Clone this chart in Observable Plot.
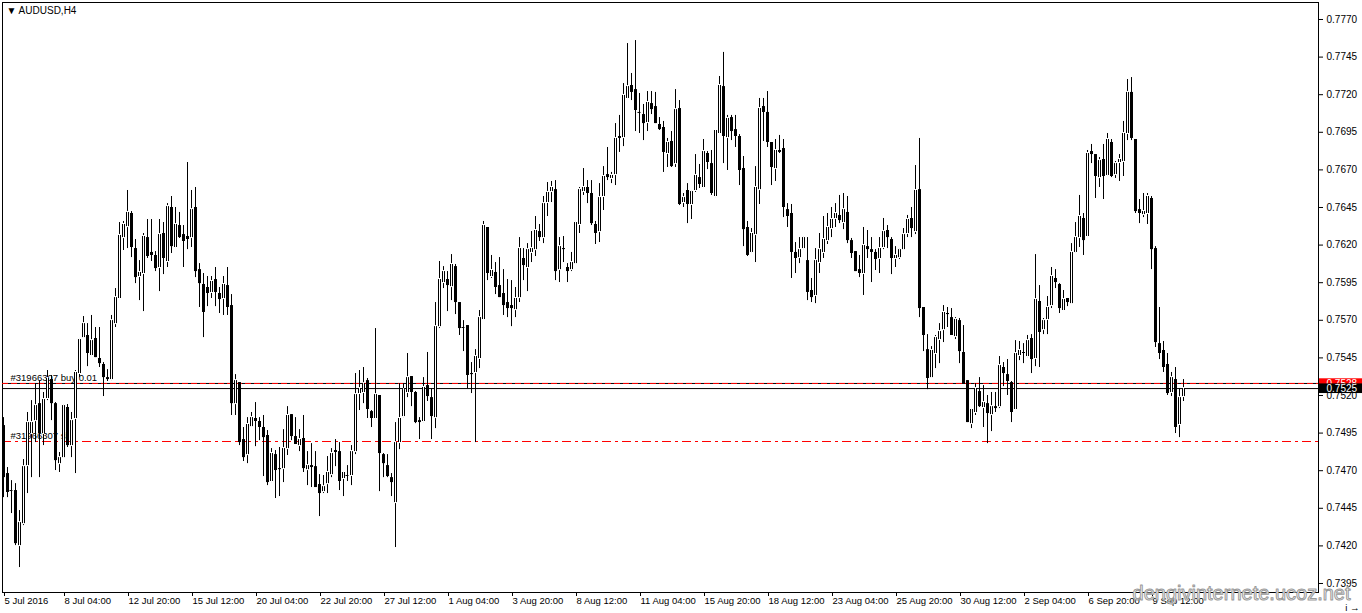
<!DOCTYPE html>
<html><head><meta charset="utf-8">
<script src="https://cdn.jsdelivr.net/npm/d3@7"></script>
<script src="https://cdn.jsdelivr.net/npm/@observablehq/plot@0.6"></script>
<style>
html,body{margin:0;padding:0;background:#fff;overflow:hidden}
#chart svg{display:block}
</style></head><body><div id="chart"></div>
<script>
const symbolTitle = "AUDUSD,H4";

const open = [
0.75000,0.74681,0.74568,0.74568,0.74202,0.74348,0.74734,0.74947,0.75033,0.75146,
0.74947,0.75180,0.75306,0.75146,0.74747,0.74787,0.75120,0.74867,0.75047,0.75346,
0.75585,0.75599,0.75466,0.75579,0.75446,0.75406,0.75306,0.75306,0.75678,0.75845,
0.76250,0.76323,0.76410,0.76177,0.75991,0.76011,0.76250,0.76151,0.76131,0.76051,
0.76277,0.76091,0.76450,0.76184,0.76330,0.76270,0.76257,0.76250,0.76450,0.76037,
0.75938,0.75918,0.75885,0.75971,0.75878,0.75845,0.75931,0.75798,0.75146,0.75286,
0.74907,0.74807,0.74993,0.75047,0.75027,0.74987,0.74934,0.74628,0.74807,0.74714,
0.74714,0.74847,0.75073,0.74927,0.74867,0.74914,0.74707,0.74734,0.74727,0.74608,
0.74561,0.74614,0.74674,0.74834,0.74827,0.74648,0.74674,0.74668,0.74827,0.75213,
0.75220,0.75299,0.75093,0.75047,0.75200,0.74807,0.74734,0.74654,0.74488,0.74887,
0.75060,0.75220,0.75326,0.75220,0.75033,0.75027,0.75266,0.75186,0.75053,0.75658,
0.75951,0.75971,0.75924,0.76057,0.75818,0.75658,0.75665,0.75346,0.75353,0.75446,
0.75705,0.76317,0.75991,0.76018,0.75931,0.75878,0.75818,0.75798,0.75771,0.75851,
0.76111,0.76051,0.76151,0.76170,0.76290,0.76250,0.76483,0.76556,0.76569,0.76037,
0.76170,0.76051,0.76037,0.76077,0.76337,0.76556,0.76583,0.76543,0.76337,0.76290,
0.76523,0.76669,0.76643,0.76669,0.76922,0.76915,0.77175,0.77261,0.77234,0.77088,
0.77068,0.77015,0.77141,0.77121,0.77002,0.76982,0.76809,0.76889,0.76742,0.77108,
0.76483,0.76563,0.76470,0.76563,0.76649,0.76583,0.76809,0.76742,0.76523,0.76942,
0.77254,0.76915,0.77048,0.76968,0.76922,0.76709,0.76317,0.76151,0.76270,0.76569,
0.77121,0.77082,0.76882,0.76709,0.76816,0.76842,0.76436,0.76410,0.76151,0.76117,
0.76177,0.76097,0.75898,0.75865,0.76084,0.76151,0.76230,0.76310,0.76377,0.76397,
0.76350,0.76417,0.76230,0.76157,0.76037,0.76011,0.76190,0.76170,0.76151,0.76111,
0.76184,0.76297,0.76237,0.76111,0.76117,0.76170,0.76277,0.76377,0.76290,0.76569,
0.75785,0.75505,0.75319,0.75479,0.75572,0.75638,0.75738,0.75718,0.75592,0.75698,
0.75486,0.75299,0.75013,0.75087,0.75226,0.75120,0.75146,0.75073,0.75113,0.75126,
0.75386,0.75339,0.75286,0.75107,0.75466,0.75479,0.75459,0.75579,0.75446,0.75825,
0.75638,0.75705,0.75798,0.75978,0.75938,0.75765,0.75845,0.75811,0.76151,0.76250,
0.76377,0.76257,0.76822,0.76802,0.76649,0.76769,0.76663,0.76882,0.76669,0.76749,
0.76756,0.76942,0.77215,0.76902,0.76436,0.76403,0.76410,0.76510,0.76177,0.75545,
0.75499,0.75406,0.75220,0.75306,0.75007,0.75193
];
const high = [
0.75053,0.74721,0.74634,0.74614,0.74435,0.74774,0.75087,0.75166,0.75279,0.75299,
0.75220,0.75366,0.75333,0.75153,0.74821,0.75140,0.75140,0.75087,0.75366,0.75579,
0.75725,0.75678,0.75732,0.75652,0.75652,0.75419,0.75372,0.75732,0.75911,0.76350,
0.76357,0.76563,0.76423,0.76237,0.76097,0.76277,0.76370,0.76370,0.76157,0.76370,
0.76350,0.76476,0.76523,0.76450,0.76417,0.76330,0.76749,0.76563,0.76583,0.76077,
0.76011,0.75991,0.75991,0.76051,0.75918,0.75991,0.76051,0.75871,0.75339,0.75286,
0.74987,0.75053,0.75087,0.75153,0.75053,0.75067,0.74967,0.74847,0.74834,0.74854,
0.74973,0.75126,0.75073,0.75053,0.74973,0.75067,0.74827,0.74880,0.74827,0.74674,
0.74668,0.74794,0.74847,0.74907,0.74887,0.74694,0.74734,0.74867,0.75346,0.75366,
0.75386,0.75313,0.75100,0.75645,0.75200,0.74814,0.74807,0.74681,0.75020,0.75279,
0.75279,0.75479,0.75326,0.75226,0.75053,0.75319,0.75486,0.75246,0.75818,0.76091,
0.76057,0.76024,0.76137,0.76071,0.75818,0.75698,0.75665,0.75419,0.75505,0.75765,
0.76357,0.76317,0.76131,0.76084,0.76117,0.76037,0.75971,0.75964,0.75918,0.76250,
0.76177,0.76210,0.76290,0.76390,0.76337,0.76523,0.76616,0.76623,0.76629,0.76250,
0.76257,0.76077,0.76151,0.76357,0.76583,0.76709,0.76629,0.76629,0.76357,0.76609,
0.76722,0.76849,0.76683,0.77008,0.77062,0.77274,0.77540,0.77341,0.77560,0.77208,
0.77135,0.77221,0.77221,0.77215,0.77048,0.77022,0.76909,0.76955,0.77234,0.77161,
0.76543,0.76609,0.76563,0.76802,0.76736,0.76902,0.76822,0.76829,0.76968,0.77321,
0.77481,0.77062,0.77062,0.77062,0.76935,0.76789,0.76357,0.76310,0.76722,0.77175,
0.77175,0.77221,0.76882,0.76902,0.76929,0.76902,0.76476,0.76470,0.76217,0.76250,
0.76257,0.76250,0.75978,0.76177,0.76277,0.76390,0.76410,0.76450,0.76476,0.76530,
0.76543,0.76523,0.76244,0.76157,0.76131,0.76317,0.76297,0.76250,0.76170,0.76250,
0.76377,0.76330,0.76250,0.76190,0.76177,0.76310,0.76397,0.76450,0.76729,0.76909,
0.75785,0.75605,0.75525,0.75599,0.75678,0.75798,0.75785,0.75778,0.75718,0.75712,
0.75665,0.75299,0.75113,0.75279,0.75319,0.75266,0.75200,0.75220,0.75220,0.75459,
0.75419,0.75439,0.75293,0.75565,0.75559,0.75545,0.75599,0.75605,0.76137,0.75931,
0.75712,0.75858,0.76051,0.76037,0.75944,0.75898,0.75845,0.76210,0.76350,0.76530,
0.76410,0.76829,0.76869,0.76802,0.76782,0.76869,0.76942,0.76902,0.76756,0.76802,
0.77022,0.77301,0.77314,0.76902,0.76503,0.76543,0.76543,0.76523,0.76190,0.75785,
0.75559,0.75479,0.75353,0.75386,0.75246,0.75306
];
const low = [
0.74521,0.74521,0.74415,0.74202,0.74056,0.74335,0.74548,0.74654,0.74887,0.74654,
0.74867,0.75166,0.75033,0.74701,0.74688,0.74781,0.74854,0.74787,0.74681,0.75319,
0.75585,0.75392,0.75466,0.75452,0.75386,0.75193,0.75293,0.75299,0.75652,0.75845,
0.76164,0.76177,0.76117,0.75944,0.75831,0.75758,0.76111,0.76091,0.76024,0.75891,
0.76004,0.76051,0.76144,0.76184,0.76244,0.76051,0.76170,0.76184,0.75984,0.75785,
0.75585,0.75791,0.75845,0.75791,0.75745,0.75732,0.75732,0.75067,0.75067,0.74867,
0.74761,0.74747,0.74987,0.74860,0.74900,0.74661,0.74601,0.74621,0.74515,0.74528,
0.74621,0.74801,0.74900,0.74874,0.74827,0.74688,0.74601,0.74588,0.74588,0.74395,
0.74548,0.74548,0.74654,0.74727,0.74568,0.74528,0.74628,0.74601,0.74807,0.75100,
0.75146,0.75047,0.74987,0.75040,0.74561,0.74654,0.74654,0.74528,0.74189,0.74840,
0.75053,0.75186,0.75126,0.75013,0.74907,0.75020,0.75160,0.74907,0.74980,0.75645,
0.75911,0.75758,0.75831,0.75738,0.75599,0.75492,0.75246,0.75213,0.74887,0.75379,
0.75705,0.75964,0.75978,0.75871,0.75851,0.75732,0.75718,0.75658,0.75718,0.75818,
0.75964,0.75891,0.76084,0.76124,0.76224,0.76210,0.76390,0.76483,0.75964,0.75951,
0.76084,0.75951,0.76024,0.76077,0.76277,0.76530,0.76476,0.76330,0.76204,0.76217,
0.76430,0.76629,0.76609,0.76596,0.76816,0.76855,0.77175,0.77161,0.76955,0.76942,
0.76895,0.76955,0.77068,0.77008,0.76962,0.76683,0.76716,0.76716,0.76716,0.76463,
0.76450,0.76343,0.76370,0.76550,0.76576,0.76576,0.76702,0.76530,0.76516,0.76942,
0.76742,0.76696,0.76895,0.76849,0.76596,0.76190,0.76124,0.76144,0.76084,0.76470,
0.76889,0.76849,0.76596,0.76623,0.76809,0.76383,0.76317,0.75978,0.76011,0.76077,
0.76170,0.75831,0.75818,0.75811,0.76011,0.76111,0.76204,0.76250,0.76317,0.76343,
0.76303,0.76210,0.76111,0.76024,0.75984,0.75865,0.76111,0.75951,0.76031,0.76011,
0.76170,0.76177,0.76004,0.76051,0.76104,0.76164,0.76250,0.76250,0.76270,0.75718,
0.75492,0.75239,0.75319,0.75379,0.75412,0.75552,0.75652,0.75599,0.75572,0.75412,
0.75279,0.75020,0.74980,0.75067,0.75120,0.74987,0.74880,0.74960,0.75087,0.75113,
0.75259,0.75200,0.75020,0.75107,0.75432,0.75412,0.75452,0.75346,0.75392,0.75386,
0.75605,0.75605,0.75778,0.75911,0.75745,0.75765,0.75791,0.75805,0.76144,0.76184,
0.76131,0.76257,0.76742,0.76510,0.76583,0.76503,0.76656,0.76649,0.76643,0.76623,
0.76656,0.76895,0.76895,0.76410,0.76343,0.76383,0.76337,0.76037,0.75519,0.75439,
0.75353,0.75200,0.75193,0.74947,0.74920,0.75160
];
const close = [
0.74654,0.74555,0.74568,0.74215,0.74355,0.74727,0.75020,0.75020,0.75133,0.74947,
0.75173,0.75313,0.75146,0.74767,0.74787,0.75133,0.74867,0.75033,0.75353,0.75572,
0.75678,0.75479,0.75565,0.75452,0.75412,0.75319,0.75319,0.75698,0.75851,0.76264,
0.76337,0.76417,0.76184,0.75984,0.76018,0.76257,0.76124,0.76131,0.76044,0.76270,
0.76111,0.76456,0.76190,0.76337,0.76250,0.76224,0.76237,0.76436,0.76024,0.75944,
0.75752,0.75878,0.75958,0.75885,0.75838,0.75938,0.75785,0.75146,0.75299,0.74887,
0.74787,0.75007,0.75053,0.75027,0.74987,0.74920,0.74621,0.74814,0.74701,0.74707,
0.74847,0.75067,0.74927,0.74874,0.74907,0.74714,0.74734,0.74721,0.74588,0.74548,
0.74594,0.74688,0.74814,0.74821,0.74628,0.74688,0.74668,0.74827,0.75206,0.75246,
0.75279,0.75107,0.75047,0.75206,0.74814,0.74747,0.74661,0.74621,0.74887,0.75047,
0.75239,0.75319,0.75220,0.75020,0.75020,0.75253,0.75193,0.75060,0.75658,0.75971,
0.76024,0.75931,0.76071,0.75818,0.75645,0.75652,0.75333,0.75339,0.75459,0.75718,
0.76330,0.76011,0.76031,0.75918,0.75851,0.75798,0.75778,0.75778,0.75845,0.76177,
0.76064,0.76170,0.76177,0.76297,0.76250,0.76476,0.76550,0.76583,0.76024,0.76190,
0.76177,0.76024,0.76084,0.76350,0.76569,0.76583,0.76543,0.76343,0.76277,0.76516,
0.76656,0.76649,0.76663,0.76909,0.76909,0.77195,0.77254,0.77215,0.77095,0.77082,
0.77008,0.77148,0.77101,0.77008,0.76968,0.76816,0.76882,0.76722,0.77101,0.76470,
0.76516,0.76470,0.76556,0.76663,0.76603,0.76822,0.76749,0.76543,0.76962,0.77261,
0.76922,0.77042,0.76955,0.76922,0.76696,0.76303,0.76131,0.76277,0.76583,0.77108,
0.77082,0.76882,0.76716,0.76829,0.76829,0.76450,0.76390,0.76151,0.76111,0.76170,
0.76250,0.75885,0.75851,0.76097,0.76170,0.76237,0.76317,0.76370,0.76410,0.76363,
0.76436,0.76230,0.76144,0.76024,0.76011,0.76197,0.76170,0.76151,0.76104,0.76177,
0.76290,0.76250,0.76111,0.76131,0.76170,0.76270,0.76370,0.76310,0.76563,0.75778,
0.75599,0.75313,0.75499,0.75585,0.75625,0.75752,0.75745,0.75599,0.75705,0.75492,
0.75279,0.75020,0.75107,0.75246,0.75126,0.75153,0.75080,0.75126,0.75126,0.75399,
0.75346,0.75293,0.75087,0.75479,0.75499,0.75486,0.75565,0.75439,0.75838,0.75619,
0.75698,0.75785,0.75991,0.75951,0.75778,0.75838,0.75818,0.76151,0.76250,0.76390,
0.76230,0.76809,0.76802,0.76656,0.76762,0.76656,0.76902,0.76656,0.76742,0.76769,
0.76942,0.77215,0.76909,0.76423,0.76410,0.76423,0.76523,0.76170,0.75552,0.75479,
0.75386,0.75213,0.75319,0.74987,0.75186,0.75246
];

const timeTickBars = [0, 15, 31, 47, 63, 79, 95, 111, 127, 143, 159, 175, 191, 207, 223, 239, 255, 271, 287];
const timeTickLabels = ["5 Jul 2016", "8 Jul 04:00", "12 Jul 20:00", "15 Jul 12:00", "20 Jul 04:00", "22 Jul 20:00",
  "27 Jul 12:00", "1 Aug 04:00", "3 Aug 20:00", "8 Aug 12:00", "11 Aug 04:00", "15 Aug 20:00", "18 Aug 12:00",
  "23 Aug 04:00", "25 Aug 20:00", "30 Aug 12:00", "2 Sep 04:00", "6 Sep 20:00", "9 Sep 12:00"];
const priceTicks = [0.7395, 0.7420, 0.7445, 0.7470, 0.7495, 0.7520, 0.7545, 0.7570, 0.7595, 0.7620, 0.7645, 0.7670, 0.7695, 0.7720, 0.7745, 0.7770];

const bidPrice = 0.75246;
const orderPrice = 0.75280;
const stopPrice = 0.74894;
const orderText = "#31966307 buy 0.01";
const stopText = "#31966307 sl";
const watermarkText = "dengivinternete.ucoz.net";

// derived table
const pip = 0.0000665; // one screen pixel in price units (for thin-body handling)
const candles = open.map((o, i) => ({i, o, h: high[i], l: low[i], c: close[i]}));
const bodies = candles.filter(d => Math.abs(d.c - d.o) >= pip);
const thin = candles.filter(d => Math.abs(d.c - d.o) < pip);
const upHollow = candles.filter(d => d.c - d.o > 2.2 * pip);

const fmt4 = d3.format(".4f");
const tagX1 = 329.0, tagX2 = 339.75, tagTextX = 330.75, tagHalf = 0.00031;
const tickIndex = new Map(timeTickBars.map((b, k) => [b, timeTickLabels[k]]));

const chart = Plot.plot({
  width: 1362,
  height: 613,
  marginLeft: 2,
  marginRight: 44,
  marginTop: 2,
  marginBottom: 21,
  style: {fontFamily: "'Liberation Sans', Arial, sans-serif", fontSize: "10px", background: "#ffffff", color: "#000000", overflow: "visible"},
  x: {type: "linear", domain: [-0.25, 328.75], axis: null},
  y: {type: "linear", domain: [0.738901, 0.778130], axis: null},
  marks: [
    Plot.frame({stroke: "#000000"}),
    Plot.ruleY([orderPrice], {stroke: "#000000"}),
    Plot.ruleY([orderPrice], {stroke: "#ff0000", strokeDasharray: "6,3"}),
    Plot.ruleY([bidPrice], {stroke: "#000000"}),
    Plot.ruleY([stopPrice], {stroke: "#ff0000", strokeDasharray: "9,4,3,4"}),
    Plot.text([orderPrice], {y: d => d, frameAnchor: "left", dx: 8, dy: -6, text: () => orderText, textAnchor: "start", fontSize: 9.5, fill: "#000000"}),
    Plot.text([stopPrice], {y: d => d, frameAnchor: "left", dx: 8, dy: -6, text: () => stopText, textAnchor: "start", fontSize: 9.5, fill: "#000000"}),
    // wicks
    Plot.ruleX(candles, {x: "i", y1: "l", y2: "h", stroke: "#000000", strokeWidth: 1}),
    // bodies (3px wide, black outline)
    Plot.ruleX(bodies, {x: "i", y1: "o", y2: "c", stroke: "#000000", strokeWidth: 3}),
    // hollow interior of bullish bodies
    Plot.ruleX(upHollow, {x: "i", y1: "o", y2: "c", stroke: "#ffffff", strokeWidth: 1, insetTop: 1, insetBottom: 1}),
    // very small bodies drawn as 3px dashes
    Plot.ruleY(thin, {y: "c", x1: d => d.i - 0.375, x2: d => d.i + 0.375, stroke: "#000000"}),
    Plot.axisY({anchor: "right", ticks: priceTicks, tickFormat: fmt4, tickSize: 4, tickPadding: 4, fontSize: 10}),
    Plot.axisX({anchor: "bottom", ticks: timeTickBars, tickFormat: b => tickIndex.get(b), tickSize: 4, tickPadding: 1, textAnchor: "start", dx: 1, fontSize: 9.5}),
    Plot.rect([orderPrice], {x1: tagX1, x2: tagX2, y1: d => d - tagHalf, y2: d => d + tagHalf, fill: "#ff0000"}),
    Plot.text([orderPrice], {x: tagTextX, y: d => d, text: fmt4, textAnchor: "start", fill: "#ffffff", fontSize: 10}),
    Plot.rect([bidPrice], {x1: tagX1, x2: tagX2, y1: d => d - tagHalf - 0.00002, y2: d => d + tagHalf, fill: "#000000"}),
    Plot.text([bidPrice], {x: tagTextX, y: d => d, text: fmt4, textAnchor: "start", fill: "#ffffff", fontSize: 10}),
    Plot.text([symbolTitle], {frameAnchor: "top-left", dx: 4, dy: 8, text: d => "\u25BC " + d, textAnchor: "start", lineAnchor: "middle", fontSize: 10, fill: "#000000"}),
    Plot.text([watermarkText], {frameAnchor: "bottom-right", dx: 32, dy: 1, text: d => d, textAnchor: "end", lineAnchor: "middle", fontSize: 20, fill: "#ffffff", stroke: "#9a9a9a", strokeWidth: 1, paintOrder: "fill"})
  ]
});
document.getElementById("chart").appendChild(chart);
</script>
</body></html>
